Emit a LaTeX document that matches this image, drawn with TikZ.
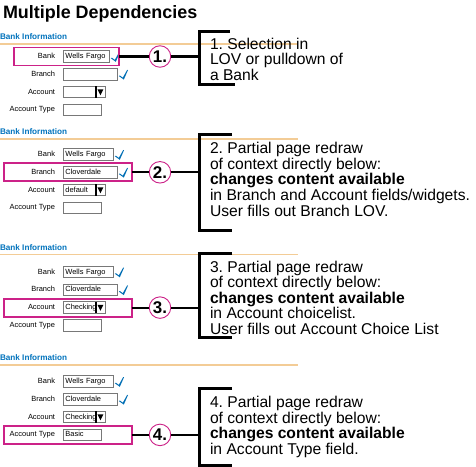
\documentclass[tikz,border=0pt]{standalone}
\usepackage{fontspec}
\setmainfont{Liberation Sans}
\usetikzlibrary{matrix}
\definecolor{hlpink}{RGB}{204,34,136}
\definecolor{infoblue}{RGB}{0,114,188}
\definecolor{rulebeige}{RGB}{243,204,150}
\definecolor{tickblue}{RGB}{0,110,180}
\definecolor{fieldgray}{RGB}{120,120,120}

\begin{document}
\frenchspacing
\begin{tikzpicture}[x=1bp, y=-1bp,
every node/.style={inner sep=0, outer sep=0},
form/.style={matrix of nodes,
	nodes in empty cells,
	row sep=5.5bp,
	column sep=7.5bp,
	inner sep=0,
	outer sep=0,
	nodes={font=\fontsize{7.5}{9}\selectfont, minimum height=11.5bp, text height=5.6bp, text depth=1.6bp},
	column 1/.style={anchor=east},
	column 2/.style={anchor=west}},
field/.style={draw=fieldgray, line width=0.8bp, fill=white, inner xsep=2.5bp, text width=#1, align=left},
head/.style={anchor=base west, font=\bfseries\fontsize{8.2}{10}\selectfont, text=infoblue},
rule/.style={draw=rulebeige, line width=1.8bp},
hilite/.style={draw=hlpink, line width=1.9bp, minimum height=18bp, anchor=west},
num/.style={circle, draw=hlpink, line width=0.9bp, fill=white, minimum size=21.5bp, font=\bfseries\fontsize{17}{17}\selectfont},
link/.style={line width=2.2bp},
brk/.style={line width=3bp, line join=miter},
note/.style={anchor=north west, align=left, font=\fontsize{15.7}{15.6}\selectfont},
tick/.pic={\fill[tickblue] (-4.5,-3.2) -- (-3.5,-3.8) -- (-0.6,-1.6) -- (3.8,-9.5) -- (4.6,-9.2) -- (0.4,0.3) -- cycle;},
drop/.pic={\draw[line width=1.6bp] (-9,-5.75) -- (-9,5.75);
	\fill (-7.5,-2.8) -- ++(6,0) -- ++(-3,6) -- cycle;}]
\useasboundingbox (0,0) rectangle (476,467);

\node[anchor=base west, font=\bfseries\fontsize{18}{20}\selectfont] (title) at (3,18.5) {Multiple Dependencies};

\node[head] (i1) at (0,39.5) {Bank Information};
\draw[rule] (0,44) -- (297,44);
\matrix (f1) [form, matrix anchor=f1-1-1.east] at (55,56.5)
{
	Bank & |[field=41bp]| Wells Fargo \\
	Branch & |[field=49bp]| \\
	Account & |[field=37bp]| \\
	Account Type & |[field=33bp]| \\
};
\pic at ([xshift=6.5bp,yshift=-5bp]f1-1-2.east) {tick};
\pic at ([xshift=6.5bp,yshift=-5bp]f1-2-2.east) {tick};
\pic at (f1-3-2.east) {drop};
\node[hilite, minimum width=105bp] (h1) at (f1-1-2.west -| 14,0) {};
\node[num] (c1) at (h1.center -| 160,0) {1.};
\coordinate (k1) at (h1.center -| 199,0);
\draw[link] (h1) -- (c1);
\draw[link] (c1) -- (k1);
\draw[brk] (230,32) -- (199,32) -- (199,85) -- (235,85);
\node[note] (t1) at (210,38) {1. Selection in\\LOV or pulldown of\\a Bank};

\node[head] (i2) at (0,134.5) {Bank Information};
\draw[rule] (0,139) -- (298,139);
\matrix (f2) [form, matrix anchor=f2-1-1.east] at (55,154.5)
{
	Bank & |[field=45bp]| Wells Fargo \\
	Branch & |[field=49bp]| Cloverdale \\
	Account & |[field=37bp]| default \\
	Account Type & |[field=33bp]| \\
};
\pic at ([xshift=6.5bp,yshift=-5bp]f2-1-2.east) {tick};
\pic at ([xshift=6.5bp,yshift=-5bp]f2-2-2.east) {tick};
\pic at (f2-3-2.east) {drop};
\node[hilite, minimum width=128bp] (h2) at (f2-2-2.west -| 3.7,0) {};
\node[num] (c2) at (h2.center -| 160,0) {2.};
\coordinate (k2) at (h2.center -| 199,0);
\draw[link] (h2) -- (c2);
\draw[link] (c2) -- (k2);
\draw[brk] (232,135) -- (199,135) -- (199,230) -- (232,230);
\node[note] (t2) at (210,142.5) {2. Partial page redraw\\of context directly below:\\\textbf{changes content available}\\in Branch and Account fields/widgets.\\User fills out Branch LOV.};

\node[head] (i3) at (0,250) {Bank Information};
\draw[rule] (0,254.5) -- (298,254.5);
\matrix (f3) [form, matrix anchor=f3-1-1.east] at (55,272)
{
	Bank & |[field=45bp]| Wells Fargo \\
	Branch & |[field=49bp]| Cloverdale \\
	Account & |[field=37bp]| Checking \\
	Account Type & |[field=33bp]| \\
};
\pic at ([xshift=6.5bp,yshift=-5bp]f3-1-2.east) {tick};
\pic at ([xshift=6.5bp,yshift=-5bp]f3-2-2.east) {tick};
\pic at (f3-3-2.east) {drop};
\node[hilite, minimum width=128bp] (h3) at (f3-3-2.west -| 3.7,0) {};
\node[num] (c3) at (h3.center -| 160,0) {3.};
\coordinate (k3) at (h3.center -| 199,0);
\draw[link] (h3) -- (c3);
\draw[link] (c3) -- (k3);
\draw[brk] (232,253) -- (199,253) -- (199,337) -- (232,337);
\node[note] (t3) at (210,261) {3. Partial page redraw\\of context directly below:\\\textbf{changes content available}\\in Account choicelist.\\User fills out Account Choice List};

\node[head] (i4) at (0,360.5) {Bank Information};
\draw[rule] (0,365) -- (298,365);
\matrix (f4) [form, matrix anchor=f4-1-1.east] at (55,381.5)
{
	Bank & |[field=45bp]| Wells Fargo \\
	Branch & |[field=49bp]| Cloverdale \\
	Account & |[field=37bp]| Checking \\
	Account Type & |[field=33bp]| Basic \\
};
\pic at ([xshift=6.5bp,yshift=-5bp]f4-1-2.east) {tick};
\pic at ([xshift=6.5bp,yshift=-5bp]f4-2-2.east) {tick};
\pic at (f4-3-2.east) {drop};
\node[hilite, minimum width=128bp] (h4) at (f4-4-2.west -| 3.7,0) {};
\node[num] (c4) at (h4.center -| 160,0) {4.};
\coordinate (k4) at (h4.center -| 199,0);
\draw[link] (h4) -- (c4);
\draw[link] (c4) -- (k4);
\draw[brk] (232,388) -- (199,388) -- (199,465) -- (232,465);
\node[note] (t4) at (210,396.5) {4. Partial page redraw\\of context directly below:\\\textbf{changes content available}\\in Account Type field.};
\end{tikzpicture}
\end{document}
